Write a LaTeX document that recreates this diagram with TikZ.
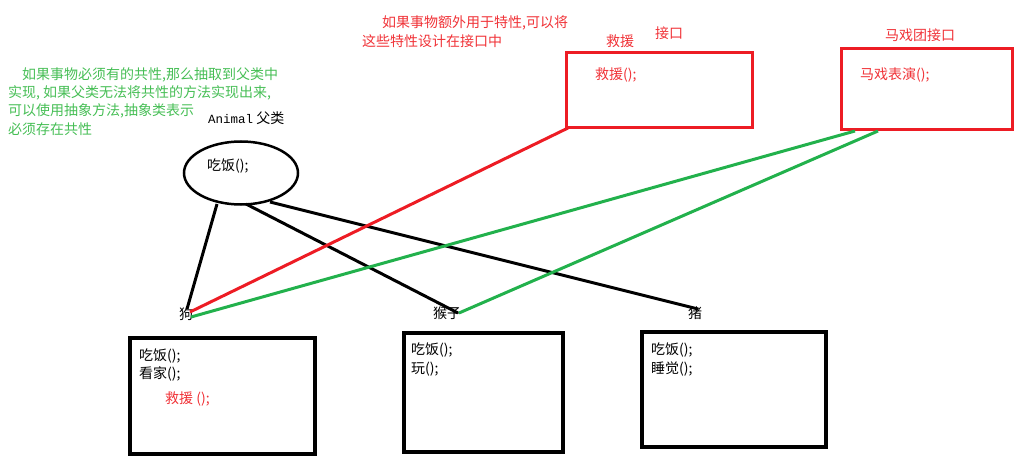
\documentclass[tikz,border=0pt]{standalone}
\usepackage{fontspec}
\setmainfont{Noto Sans CJK SC}
\newfontfamily\monofont{Liberation Mono}
\usetikzlibrary{shapes.geometric}
\definecolor{pred}{RGB}{237,28,36}
\definecolor{tred}{RGB}{240,50,55}
\definecolor{pgreen}{RGB}{34,177,76}
\definecolor{tgreen}{RGB}{70,190,85}
\tikzset{
  txt/.style={anchor=west,inner sep=0pt,font=\fontsize{14}{16}\selectfont},
  blackbox/.style={draw=black,line width=3.5pt,inner sep=0pt},
  redbox/.style={draw=pred,line width=3pt,inner sep=0pt},
  blink/.style={draw=black,line width=3pt},
  rlink/.style={draw=pred,line width=3pt},
  glink/.style={draw=pgreen,line width=3pt},
}
\begin{document}
\begin{tikzpicture}[x=1pt,y=-1pt]
\useasboundingbox (0,0) rectangle (1022,468);
% green note
\node[txt,text=tgreen] (g1) at (22,75) {如果事物必须有的共性,那么抽取到父类中};
\node[txt,text=tgreen] (g2) at (8,93) {实现, 如果父类无法将共性的方法实现出来,};
\node[txt,text=tgreen] (g3) at (8,111) {可以使用抽象方法,抽象类表示};
\node[txt,text=tgreen] (g4) at (8,129) {必须存在共性};
% red note
\node[txt,text=tred] (r1) at (382,23) {如果事物额外用于特性,可以将};
\node[txt,text=tred] (r2) at (362,41) {这些特性设计在接口中};
% parent
\node[txt] (animallbl) at (208,118) {{\monofont\fontsize{12.5}{14}\selectfont Animal} 父类};
\node[ellipse,draw=black,line width=2.5pt,minimum width=114,minimum height=63,inner sep=0pt] (animal) at (241,173) {};
\node[txt] (animaltxt) at (207,166) {吃饭();};
% interfaces
\node[txt,text=tred] (rescuett) at (606,41) {救援};
\node[txt,text=tred] (ifacett) at (655,33) {接口};
\node[redbox,minimum width=186,minimum height=75] (rescue) at (659,90.5) {};
\node[txt,text=tred] (rescuetxt) at (595,75) {救援();};
\node[txt,text=tred] (circustt) at (885,35) {马戏团接口};
\node[redbox,minimum width=171,minimum height=81] (circus) at (926.5,89.5) {};
\node[txt,text=tred] (circustxt) at (860,75) {马戏表演();};
% child labels
\node[txt] (doglbl) at (179,314) {狗};
\node[txt] (monkeylbl) at (433,313) {猴子};
\node[txt] (piglbl) at (688,313) {猪};
% child boxes
\node[blackbox,minimum width=185,minimum height=116] (dog) at (222.5,396) {};
\node[txt] (dog1) at (139,356) {吃饭();};
\node[txt] (dog2) at (139,374) {看家();};
\node[txt,text=tred] (dog3) at (165,399) {救援 ();};
\node[blackbox,minimum width=159,minimum height=119] (monkey) at (483.5,392.5) {};
\node[txt] (monkey1) at (411,350) {吃饭();};
\node[txt] (monkey2) at (411,369) {玩();};
\node[blackbox,minimum width=184,minimum height=115] (pig) at (734,389.5) {};
\node[txt] (pig1) at (651,350) {吃饭();};
\node[txt] (pig2) at (651,369) {睡觉();};
% connector end points
\coordinate (a1) at (217,204);
\coordinate (a2) at (246,204);
\coordinate (a3) at (270,202);
\coordinate (d1) at (187,309);
\coordinate (d2) at (190,312);
\coordinate (d3) at (191,317);
\coordinate (m1) at (458,313);
\coordinate (m2) at (459,313);
\coordinate (p1) at (698,309);
\coordinate (rs) at (568,128);
\coordinate (c1) at (855,131);
\coordinate (c2) at (878,131);
% connectors
\draw[blink] (a1) -- (d1);
\draw[blink] (a2) -- (m1);
\draw[blink] (a3) -- (p1);
\draw[rlink] (rs) -- (d2);
\draw[glink] (c1) -- (d3);
\draw[glink] (c2) -- (m2);
\end{tikzpicture}
\end{document}
